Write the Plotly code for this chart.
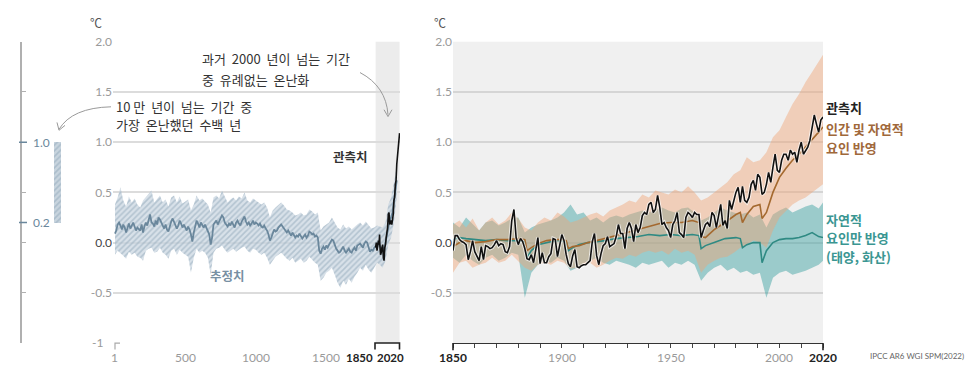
import plotly.graph_objects as go

W, H = 967, 367

# ---------------- data ----------------
# Left panel: reconstruction (estimate) years 1..2000, decadal
proxy_years = [1] + list(range(10, 2001, 10))
proxy_mid = [
    0.09, 0.12, 0.18, 0.2, 0.17, 0.13, 0.18, 0.15, 0.1, 0.16,
    0.19, 0.14, 0.17, 0.2, 0.16, 0.12, 0.15, 0.13, 0.12, 0.18,
    0.1, 0.16, 0.2, 0.17, 0.23, 0.28, 0.2, 0.19, 0.16, 0.22,
    0.18, 0.25, 0.23, 0.2, 0.16, 0.14, 0.18, 0.13, 0.11, 0.17,
    0.21, 0.24, 0.2, 0.18, 0.14, 0.17, 0.22, 0.19, 0.15, 0.18,
    0.14, 0.12, 0.16, 0.13, 0.08, 0.01, 0.1, 0.18, 0.22, 0.19,
    0.15, 0.2, 0.17, 0.15, 0.18, 0.14, 0.12, 0.08, -0.02, 0.05,
    0.18, 0.2, 0.22, 0.18, 0.21, 0.24, 0.27, 0.25, 0.2, 0.18,
    0.16, 0.19, 0.17, 0.21, 0.18, 0.15, 0.2, 0.22, 0.19, 0.17,
    0.21, 0.24, 0.26, 0.21, 0.18, 0.2, 0.17, 0.19, 0.22, 0.18,
    0.2, 0.19, 0.17, 0.19, 0.16, 0.15, 0.17, 0.14, 0.12, 0.08,
    0.02, 0.05, 0.1, 0.13, 0.11, 0.12, 0.15, 0.17, 0.18, 0.16,
    0.14, 0.13, 0.1, 0.12, 0.09, 0.07, 0.1, 0.08, 0.05, 0.07,
    0.06, 0.09, 0.06, 0.04, 0.06, 0.08, 0.05, 0.07, 0.11, 0.1,
    0.08, 0.09, 0.06, 0.07, 0.05, -0.08, -0.11, -0.06, -0.04, -0.07,
    -0.03, -0.05, -0.02, 0.0, 0.03, 0.02, -0.03, -0.06, -0.08, -0.1,
    -0.09, -0.06, -0.04, -0.08, -0.1, -0.08, -0.06, -0.09, -0.1, -0.07,
    -0.05, -0.08, -0.03, -0.02, -0.01, -0.03, -0.05, -0.01, 0.01, 0.0,
    -0.04, -0.09, -0.07, -0.08, -0.05, -0.03, -0.02, 0.0, -0.03, -0.06,
    -0.05, -0.08, 0.0, 0.08, 0.18, 0.22, 0.25, 0.3, 0.42, 0.52,
    0.62,
]
proxy_band_years = [1] + list(range(20, 2001, 20))
proxy_hi = [
    0.38, 0.45, 0.55, 0.42, 0.36, 0.46, 0.40, 0.44, 0.38, 0.35,
    0.42, 0.45, 0.48, 0.52, 0.40, 0.44, 0.47, 0.40, 0.43, 0.36,
    0.45, 0.47, 0.40, 0.46, 0.39, 0.41, 0.43, 0.32, 0.38, 0.47,
    0.42, 0.44, 0.41, 0.38, 0.30, 0.45, 0.47, 0.44, 0.52, 0.45,
    0.40, 0.43, 0.45, 0.42, 0.46, 0.44, 0.50, 0.42, 0.40, 0.44,
    0.42, 0.40, 0.38, 0.40, 0.35, 0.25, 0.32, 0.35, 0.38, 0.40,
    0.37, 0.33, 0.32, 0.30, 0.27, 0.28, 0.30, 0.27, 0.28, 0.33,
    0.31, 0.28, 0.30, 0.12, 0.16, 0.18, 0.20, 0.25, 0.20, 0.15,
    0.13, 0.18, 0.14, 0.16, 0.13, 0.16, 0.18, 0.20, 0.17, 0.21,
    0.18, 0.14, 0.15, 0.17, 0.16, 0.15, 0.20, 0.38, 0.45, 0.60,
    0.75,
]
proxy_lo = [
    -0.12, -0.08, -0.10, -0.13, -0.16, -0.09, -0.12, -0.10, -0.14, -0.15,
    -0.18, -0.08, -0.06, -0.05, -0.10, -0.09, -0.05, -0.10, -0.12, -0.16,
    -0.08, -0.06, -0.12, -0.07, -0.10, -0.12, -0.14, -0.30, -0.15, -0.06,
    -0.10, -0.08, -0.10, -0.15, -0.32, -0.10, -0.06, -0.05, -0.03, -0.07,
    -0.10, -0.08, -0.06, -0.09, -0.07, -0.05, -0.04, -0.08, -0.10, -0.06,
    -0.07, -0.10, -0.12, -0.10, -0.15, -0.22, -0.18, -0.14, -0.12, -0.10,
    -0.13, -0.16, -0.18, -0.15, -0.20, -0.18, -0.16, -0.20, -0.18, -0.14,
    -0.17, -0.20, -0.22, -0.38, -0.35, -0.30, -0.28, -0.25, -0.32, -0.40,
    -0.45, -0.38, -0.42, -0.36, -0.40, -0.34, -0.30, -0.25, -0.28, -0.22,
    -0.27, -0.30, -0.25, -0.20, -0.22, -0.25, -0.18, -0.02, 0.05, 0.20,
    0.45,
]
# Left panel: observations (smoothed)
obs_left_years = [1850, 1855, 1860, 1865, 1870, 1875, 1878, 1880, 1885, 1890, 1895, 1900,
                  1905, 1910, 1915, 1920, 1925, 1930, 1935, 1940, 1945, 1950, 1955, 1960,
                  1965, 1970, 1975, 1980, 1985, 1990, 1995, 2000, 2005, 2010, 2015, 2020]
obs_left = [-0.05, 0.0, -0.08, -0.03, 0.02, -0.02, 0.08, -0.02, -0.12, -0.1, -0.05, -0.02,
            -0.15, -0.18, -0.05, -0.02, 0.05, 0.1, 0.15, 0.28, 0.3, 0.18, 0.2, 0.22,
            0.18, 0.22, 0.28, 0.42, 0.45, 0.58, 0.62, 0.78, 0.88, 0.95, 1.02, 1.09]
# Far-left bar: warmest multi-century period in >100,000 years
warm_lo, warm_hi = 0.2, 1.0

# Right panel: observed annual 1850-2020
obs_years = list(range(1850, 2021))
obs = [
    -0.08, 0.07, 0.07, 0.03, 0.01, 0.00, -0.02, -0.17, -0.09, 0.02,
    -0.09, -0.13, -0.18, -0.04, -0.17, -0.03, -0.04, -0.06, -0.05, -0.02,
    0.02, -0.03, -0.01, -0.02, -0.09, -0.10, -0.04, 0.22, 0.33, 0.05,
    -0.02, 0.04, 0.01, -0.06, -0.16, -0.17, -0.12, -0.20, -0.08, 0.05,
    -0.21, -0.10, -0.20, -0.20, -0.14, -0.11, 0.04, 0.03, -0.14, -0.03,
    0.08, 0.02, -0.12, -0.21, -0.24, -0.13, -0.07, -0.24, -0.25, -0.23,
    -0.22, -0.22, -0.20, -0.18, 0.01, 0.09, -0.13, -0.22, -0.11, -0.03,
    -0.01, 0.06, -0.04, -0.02, -0.01, 0.06, 0.18, 0.09, 0.09, -0.06,
    0.14, 0.20, 0.14, 0.01, 0.18, 0.10, 0.15, 0.27, 0.30, 0.28,
    0.38, 0.40, 0.30, 0.33, 0.47, 0.35, 0.18, 0.20, 0.15, 0.12,
    0.05, 0.18, 0.22, 0.30, 0.10, 0.08, 0.05, 0.25, 0.30, 0.28,
    0.25, 0.30, 0.28, 0.28, 0.05, 0.12, 0.18, 0.20, 0.16, 0.30,
    0.27, 0.15, 0.25, 0.38, 0.17, 0.22, 0.14, 0.42, 0.33, 0.42,
    0.50, 0.55, 0.40, 0.56, 0.42, 0.40, 0.45, 0.58, 0.62, 0.52,
    0.68, 0.65, 0.48, 0.50, 0.58, 0.70, 0.60, 0.75, 0.88, 0.72,
    0.70, 0.82, 0.88, 0.88, 0.82, 0.92, 0.88, 0.90, 0.80, 0.92,
    1.00, 0.88, 0.92, 0.95, 1.02, 1.15, 1.27, 1.18, 1.10, 1.22,
    1.25,
]
# Simulations
sim_years = [1850, 1853, 1856, 1860, 1865, 1870, 1875, 1880, 1883, 1884, 1886, 1889, 1893,
             1897, 1900, 1902, 1903, 1905, 1908, 1912, 1916, 1920, 1925, 1930, 1935, 1940,
             1945, 1950, 1955, 1960, 1963, 1964, 1966, 1970, 1975, 1980, 1982, 1983, 1985,
             1988, 1991, 1992, 1994, 1997, 2000, 2003, 2006, 2009, 2012, 2015, 2018, 2020]
human_natural = [-0.04, 0.0, 0.02, 0.0, 0.01, 0.03, 0.03, 0.04, 0.03, -0.08, -0.05, -0.01, 0.02,
                 0.03, 0.03, 0.02, -0.06, -0.04, -0.03, 0.0, 0.02, 0.04, 0.07, 0.1, 0.13, 0.16,
                 0.19, 0.2, 0.2, 0.22, 0.2, 0.06, 0.05, 0.13, 0.2, 0.28, 0.3, 0.2, 0.28,
                 0.36, 0.38, 0.24, 0.3, 0.5, 0.65, 0.74, 0.82, 0.88, 0.95, 1.03, 1.1, 1.15]
natural_only = [0.03, 0.05, 0.04, 0.03, 0.02, 0.03, 0.02, 0.02, 0.01, -0.15, -0.08, -0.02, 0.0,
                0.02, 0.02, 0.01, -0.08, -0.05, -0.02, 0.0, 0.01, 0.02, 0.04, 0.05, 0.06, 0.08,
                0.07, 0.08, 0.07, 0.08, 0.07, -0.06, -0.03, 0.0, 0.04, 0.05, 0.04, -0.05, -0.02,
                0.0, 0.0, -0.2, -0.08, 0.0, 0.03, 0.04, 0.04, 0.05, 0.07, 0.1, 0.06, 0.05]
band_years = list(range(1850, 2019, 3)) + [2020]
hn_hi = [0.18, 0.22, 0.15, 0.24, 0.12, 0.2, 0.25, 0.18, 0.22, 0.3,
         0.24, 0.15, 0.12, 0.2, 0.25, 0.22, 0.3, 0.26, 0.2, 0.22,
         0.25, 0.28, 0.3, 0.26, 0.32, 0.35, 0.38, 0.42, 0.4, 0.48,
         0.45, 0.52, 0.5, 0.48, 0.53, 0.5, 0.56, 0.5, 0.42, 0.45,
         0.5, 0.55, 0.6, 0.68, 0.72, 0.85, 0.8, 0.82, 0.9, 1.05,
         1.12, 1.25, 1.38, 1.48, 1.6, 1.7, 1.8, 1.87]
hn_lo = [-0.3, -0.2, -0.18, -0.25, -0.22, -0.2, -0.15, -0.2, -0.18, -0.12,
         -0.18, -0.25, -0.28, -0.22, -0.2, -0.22, -0.18, -0.2, -0.26, -0.25,
         -0.22, -0.2, -0.25, -0.22, -0.18, -0.15, -0.16, -0.12, -0.14, -0.1,
         -0.08, -0.1, -0.08, -0.12, -0.06, -0.1, -0.08, -0.12, -0.3, -0.22,
         -0.18, -0.15, -0.14, -0.1, -0.05, -0.02, 0.02, 0.0, -0.05, 0.12,
         0.25, 0.32, 0.38, 0.42, 0.45, 0.5, 0.55, 0.58]
nat_hi = [0.2, 0.15, 0.25, 0.18, 0.12, 0.2, 0.22, 0.17, 0.2, 0.24,
          0.25, 0.1, 0.15, 0.18, 0.2, 0.22, 0.25, 0.3, 0.38, 0.28,
          0.3, 0.22, 0.25, 0.2, 0.25, 0.27, 0.25, 0.28, 0.3, 0.32,
          0.3, 0.33, 0.35, 0.32, 0.3, 0.34, 0.35, 0.3, 0.22, 0.25,
          0.3, 0.35, 0.32, 0.3, 0.28, 0.3, 0.25, 0.28, 0.15, 0.28,
          0.32, 0.35, 0.3, 0.33, 0.36, 0.38, 0.34, 0.4]
nat_lo = [-0.15, -0.2, -0.12, -0.18, -0.22, -0.15, -0.12, -0.18, -0.15, -0.1,
          -0.12, -0.55, -0.3, -0.22, -0.18, -0.2, -0.15, -0.18, -0.28, -0.25,
          -0.2, -0.18, -0.15, -0.2, -0.22, -0.18, -0.2, -0.22, -0.25, -0.2,
          -0.22, -0.2, -0.18, -0.25, -0.2, -0.22, -0.18, -0.22, -0.38, -0.3,
          -0.25, -0.22, -0.28, -0.25, -0.3, -0.28, -0.32, -0.3, -0.55, -0.35,
          -0.3, -0.28, -0.32, -0.3, -0.28, -0.25, -0.22, -0.18]

y_ticks = [2.0, 1.5, 1.0, 0.5, 0.0, -0.5]
y_ticktext = ["2.0", "1.5", "1.0", "0.5", "<span style='color:#444'>0.0</span>", "-0.5"]
left_xticks = [1, 500, 1000, 1500]
right_xticks = [1850, 1900, 1950, 2000, 2020]

# ---------------- layout helpers ----------------
def px(x):
    return x / W

def py(y):
    return 1 - y / H

Y0, Y1 = py(342.5), py(34.5)
KR = "Noto Sans CJK KR, Lato, sans-serif"
NUM = "Lato, Noto Sans CJK KR, sans-serif"
SP = "\u00a0\u00a0"

GREYBLUE = "#6a879c"
BROWN = "#a4692f"
TEAL = "#2f8a83"

fig = go.Figure()

# proxy band (hatched)
fig.add_trace(go.Scatter(
    x=proxy_band_years + proxy_band_years[::-1],
    y=proxy_hi + proxy_lo[::-1],
    fill="toself", mode="lines", line=dict(width=0),
    fillcolor="rgba(196,210,221,0.7)",
    fillpattern=dict(shape="/", fgcolor="#8ea6b8", bgcolor="rgba(203,215,225,0.75)", size=4, solidity=0.4),
    xaxis="x", yaxis="y", hoverinfo="skip", showlegend=False))
fig.add_trace(go.Scatter(x=proxy_years, y=proxy_mid, mode="lines",
                         line=dict(color=GREYBLUE, width=1.8),
                         xaxis="x", yaxis="y", showlegend=False))
fig.add_trace(go.Scatter(x=obs_left_years, y=obs_left, mode="lines",
                         line=dict(color="#111", width=1.6),
                         xaxis="x", yaxis="y", showlegend=False))

# right panel bands
fig.add_trace(go.Scatter(x=band_years + band_years[::-1], y=nat_hi + nat_lo[::-1],
                         fill="toself", mode="lines", line=dict(width=0),
                         fillcolor="rgba(70,165,165,0.5)",
                         xaxis="x2", yaxis="y2", hoverinfo="skip", showlegend=False))
fig.add_trace(go.Scatter(x=band_years + band_years[::-1], y=hn_hi + hn_lo[::-1],
                         fill="toself", mode="lines", line=dict(width=0),
                         fillcolor="rgba(240,165,118,0.45)",
                         xaxis="x2", yaxis="y2", hoverinfo="skip", showlegend=False))
fig.add_trace(go.Scatter(x=sim_years, y=natural_only, mode="lines",
                         line=dict(color=TEAL, width=1.6),
                         xaxis="x2", yaxis="y2", showlegend=False))
fig.add_trace(go.Scatter(x=sim_years, y=human_natural, mode="lines",
                         line=dict(color=BROWN, width=1.6),
                         xaxis="x2", yaxis="y2", showlegend=False))
fig.add_trace(go.Scatter(x=obs_years, y=obs, mode="lines",
                         line=dict(color="rgba(255,255,255,0.7)", width=3.6),
                         xaxis="x2", yaxis="y2", hoverinfo="skip", showlegend=False))
fig.add_trace(go.Scatter(x=obs_years, y=obs, mode="lines",
                         line=dict(color="#111", width=1.6),
                         xaxis="x2", yaxis="y2", showlegend=False))

# far-left bar
fig.add_trace(go.Bar(x=[35.5], y=[warm_hi - warm_lo], base=[warm_lo], width=7,
                     marker=dict(color="rgba(200,212,222,1)", line_width=0,
                                 pattern=dict(shape="/", fgcolor="#8ea6b8", size=4, solidity=0.4)),
                     xaxis="x3", yaxis="y3", showlegend=False))

fig.update_layout(
    width=W, height=H, margin=dict(l=0, r=0, t=0, b=0), autosize=False,
    paper_bgcolor="white", plot_bgcolor="rgba(0,0,0,0)",
    font=dict(family=NUM, size=12, color="#999"),
    xaxis=dict(domain=[px(113), px(400)], range=[-13, 2023], showgrid=False, zeroline=False,
               showticklabels=False, anchor="y", fixedrange=True),
    yaxis=dict(domain=[Y0, Y1], range=[-1, 2], tickvals=y_ticks, ticktext=y_ticktext,
               showgrid=True, gridcolor="#dcdcdc", gridwidth=1.5, zeroline=False,
               tickfont=dict(family=NUM, size=12, color="#9a9a9a"), anchor="x", ticks=""),
    xaxis2=dict(domain=[px(453), px(823)], range=[1850, 2020], showgrid=False, zeroline=False,
                showticklabels=False, anchor="y2", showline=True, linecolor="#333", linewidth=1.2,
                ticks="outside", tickvals=list(range(1850, 2021, 10)), ticklen=4, tickcolor="#444",
                tickwidth=1),
    yaxis2=dict(domain=[Y0, Y1], range=[-1, 2], tickvals=y_ticks, ticktext=y_ticktext,
                showgrid=True, gridcolor="#d5d5d5", gridwidth=1.5, zeroline=False,
                tickfont=dict(family=NUM, size=12, color="#9a9a9a"), anchor="x2", ticks=""),
    xaxis3=dict(domain=[px(22), px(72)], range=[0, 50], visible=False, anchor="y3"),
    yaxis3=dict(domain=[Y0, Y1], range=[-1, 2], anchor="x3", showgrid=False, zeroline=False,
                showline=True, linecolor="#b0b0b0", linewidth=1.5, ticks="inside", ticklen=4,
                tickcolor="#b0b0b0", tickvals=[2, 1.5, 1, 0.5, 0.2, 0, -0.5, -1],
                showticklabels=False),
    bargap=0,
)

shapes = []
# left 1850-2020 grey band
shapes.append(dict(type="rect", xref="x", yref="paper", x0=1850, x1=2020, y0=Y0, y1=Y1,
                   fillcolor="#ececec", line_width=0, layer="below"))
# right panel background
shapes.append(dict(type="rect", xref="paper", yref="paper", x0=px(453), x1=px(823), y0=Y0, y1=Y1,
                   fillcolor="#f0f0f0", line_width=0, layer="below"))
# left bracket 1850-2020
shapes.append(dict(type="path", xref="paper", yref="paper",
                   path=f"M {px(375)} {py(349)} L {px(375)} {py(342.5)} L {px(399.5)} {py(342.5)} L {px(399.5)} {py(349)}",
                   line=dict(color="#222", width=1.6)))
# small tick at year 1
shapes.append(dict(type="path", xref="paper", yref="paper",
                   path=f"M {px(115)} {py(349)} L {px(115)} {py(342.5)} L {px(120)} {py(342.5)}",
                   line=dict(color="#aaa", width=1.2)))
# long ticks right panel
for xx in (453, 823):
    shapes.append(dict(type="line", xref="paper", yref="paper", x0=px(xx), x1=px(xx),
                       y0=py(342.5), y1=py(350), line=dict(color="#222", width=1.6)))
# blue ticks at 1.0 and 0.2 on far-left axis
for v in (warm_hi, warm_lo):
    shapes.append(dict(type="line", xref="paper", yref="y3", x0=px(19), x1=px(27), y0=v, y1=v,
                       line=dict(color=GREYBLUE, width=1.5)))
# curved arrows
shapes.append(dict(type="path", xref="paper", yref="paper",
                   path=f"M {px(111)} {py(101)} Q {px(72)} {py(102)} {px(59)} {py(124)}",
                   line=dict(color="#9a9a9a", width=1)))
shapes.append(dict(type="path", xref="paper", yref="paper",
                   path=f"M {px(57)} {py(117)} L {px(59)} {py(125)} L {px(65)} {py(120)}",
                   line=dict(color="#9a9a9a", width=1)))
shapes.append(dict(type="path", xref="paper", yref="paper",
                   path=f"M {px(360)} {py(66)} Q {px(386)} {py(80)} {px(388)} {py(109)}",
                   line=dict(color="#9a9a9a", width=1)))
shapes.append(dict(type="path", xref="paper", yref="paper",
                   path=f"M {px(384)} {py(104)} L {px(388)} {py(111)} L {px(392)} {py(104)}",
                   line=dict(color="#9a9a9a", width=1)))
fig.update_layout(shapes=shapes)

ann = []

def A(text, x, y, xanchor="left", size=12, color="#333", family=KR, **kw):
    d = dict(text=text, x=px(x), y=py(y), xref="paper", yref="paper", xanchor=xanchor,
             yanchor="middle", showarrow=False, font=dict(family=family, size=size, color=color))
    d.update(kw)
    ann.append(d)

A("\u2103", 96, 15, "center", 12, "#555")
A("\u2103", 440, 15, "center", 12, "#555")
A(SP.join(["과거", "2000", "년이", "넘는", "기간"]), 200, 52, "left", 13, "#333")
A(SP.join(["중", "유례없는", "온난화"]), 200, 73, "left", 13, "#333")
A("10 " + SP.join(["만", "년이", "넘는", "기간", "중"]), 114, 101, "left", 13, "#333")
A(SP.join(["가장", "온난했던", "수백", "년"]), 114, 119, "left", 13, "#333")
A("<b>관측치</b>", 350, 152, "center", 12.5, "#333")
A("<b>추정치</b>", 227, 273, "center", 12.5, "#7890a3")
A("<b>관측치</b>", 824, 102, "left", 13, "#222")
A("<b>인간 및 자연적</b>", 824, 123, "left", 13, "#a0683a")
A("<b>요인 반영</b>", 824, 143, "left", 13, "#a0683a")
A("<b>자연적</b>", 824, 216, "left", 13, "#3a9692")
A("<b>요인만 반영</b>", 824, 235, "left", 13, "#3a9692")
A("<b>(태양, 화산)</b>", 824, 254, "left", 13, "#3a9692")
A("IPCC AR6 WGI SPM(2022)", 966, 356, "right", 8, "#666", NUM)
A("-1", 105, 342, "right", 12, "#9a9a9a", NUM)
A("1.0", 31, 137, "left", 12, GREYBLUE, NUM)
A("0.2", 31, 219, "left", 12, GREYBLUE, NUM)

for t in left_xticks:
    ann.append(dict(text=str(t), x=t, xref="x", y=py(357), yref="paper", showarrow=False,
                    xanchor="center", yanchor="middle", font=dict(family=NUM, size=12, color="#9a9a9a")))
ann.append(dict(text="<b>1850</b>", x=1850, xref="x", y=py(357), yref="paper", showarrow=False,
                xanchor="right", yanchor="middle", xshift=-1, font=dict(family=NUM, size=11.5, color="#222")))
ann.append(dict(text="<b>2020</b>", x=2020, xref="x", y=py(357), yref="paper", showarrow=False,
                xanchor="right", yanchor="middle", xshift=6, font=dict(family=NUM, size=11.5, color="#222")))
for t in right_xticks:
    bold = t in (1850, 2020)
    ann.append(dict(text=f"<b>{t}</b>" if bold else str(t), x=t, xref="x2", y=py(357), yref="paper",
                    showarrow=False, xanchor="center", yanchor="middle",
                    font=dict(family=NUM, size=12, color="#222" if bold else "#9a9a9a")))
fig.update_layout(annotations=ann)

fig.write_html("out.html", config={"displayModeBar": False},
               post_script="document.body.style.margin='0';document.body.style.overflow='hidden';")
